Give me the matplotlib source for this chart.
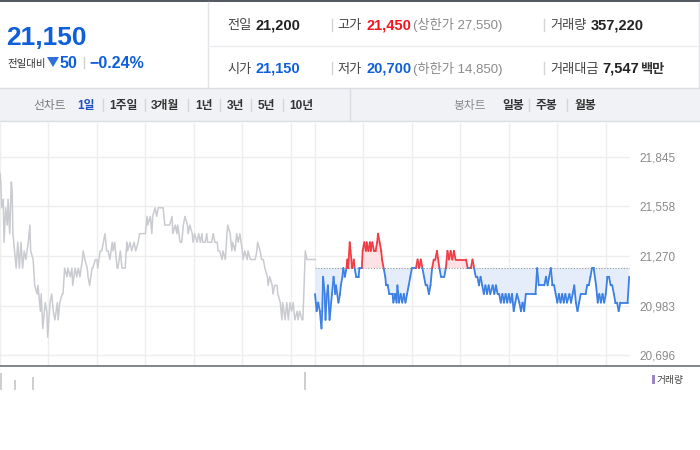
import numpy as np
import matplotlib.pyplot as plt
from matplotlib.collections import LineCollection
from matplotlib.patches import Rectangle, Polygon
from matplotlib.lines import Line2D

plt.rcParams['font.family'] = ['Liberation Sans', 'Noto Sans CJK KR', 'DejaVu Sans']

# --- 전일 분봉 (09:00 부터 경과 분, 가격) ---
prev_min = [0, 1, 2, 4, 5, 6, 7, 9, 10, 11, 12, 14, 15, 16, 19, 20, 22, 24, 26, 28,
            30, 32, 35, 37, 38, 41, 43, 46, 47, 50, 51, 53, 56, 58, 59, 62, 64, 66, 68, 71,
            72, 74, 77, 78, 80, 83, 84, 87, 89, 90, 93, 95, 97, 99, 102, 103, 105, 108, 109, 111,
            114, 115, 118, 120, 121, 124, 126, 128, 130, 132, 134, 136, 139, 140, 142, 145, 146, 149, 151, 155,
            157, 158, 161, 163, 166, 168, 171, 173, 180, 181, 182, 183, 186, 188, 189, 192, 194, 196, 202, 204,
            210, 213, 214, 217, 219, 220, 223, 225, 227, 229, 232, 233, 235, 238, 239, 241, 244, 246, 248, 250,
            251, 254, 256, 257, 262, 264, 266, 269, 270, 272, 275, 276, 279, 281, 282, 285, 287, 288, 291, 293,
            295, 297, 300, 301, 303, 306, 307, 310, 316, 318, 319, 322, 324, 326, 328, 331, 332, 334, 337, 338,
            340, 343, 344, 347, 349, 350, 353, 355, 357, 359, 361, 363, 365, 368, 369, 371, 374, 375, 378, 380,
            390]
prev_price = [21750, 21700, 21550, 21600, 21350, 21450, 21550, 21450, 21600, 21500, 21400, 21700, 21650, 21400, 21250, 21200, 21350, 21200, 21350, 21200,
              21300, 21250, 21350, 21450, 21300, 21250, 21100, 21050, 21100, 20950, 21050, 20850, 21000, 20950, 20800, 21000, 21050, 20950, 20900, 21000,
              20900, 21000, 21050, 21050, 21200, 21150, 21200, 21150, 21200, 21100, 21200, 21150, 21200, 21150, 21250, 21300, 21250, 21200, 21150, 21100,
              21200, 21200, 21250, 21250, 21200, 21300, 21300, 21350, 21400, 21300, 21300, 21250, 21350, 21300, 21350, 21200, 21200, 21300, 21200, 21200,
              21350, 21300, 21350, 21300, 21350, 21300, 21350, 21400, 21400, 21450, 21500, 21450, 21500, 21400, 21500, 21550, 21500, 21550, 21550, 21450,
              21450, 21500, 21400, 21450, 21400, 21450, 21350, 21350, 21450, 21500, 21450, 21400, 21450, 21400, 21350, 21400, 21350, 21400, 21350, 21400,
              21350, 21350, 21400, 21350, 21350, 21400, 21350, 21350, 21300, 21300, 21250, 21300, 21250, 21400, 21450, 21400, 21300, 21350, 21300, 21400,
              21350, 21400, 21300, 21250, 21300, 21250, 21300, 21250, 21250, 21300, 21350, 21300, 21250, 21250, 21200, 21150, 21100, 21150, 21100, 21050,
              21100, 21100, 21050, 21000, 20900, 21000, 20900, 21000, 20900, 21000, 20950, 21000, 20900, 20950, 20900, 20950, 20900, 20900, 21300, 21250,
              21250]

# --- 당일 분봉 ---
today_min = [0, 1, 2, 4, 6, 7, 8, 9, 10, 12, 13, 14, 16, 17, 18, 19, 21, 23, 25, 26,
             29, 31, 32, 34, 35, 37, 39, 40, 41, 43, 44, 46, 48, 49, 51, 54, 55, 58, 59, 61,
             63, 64, 66, 68, 69, 71, 73, 75, 77, 78, 80, 82, 83, 85, 87, 88, 90, 92, 96, 97,
             99, 101, 102, 104, 106, 108, 110, 112, 114, 116, 118, 120, 125, 127, 129, 131, 133, 135, 137, 139,
             141, 143, 145, 147, 149, 151, 154, 156, 160, 162, 164, 166, 168, 170, 172, 174, 187, 189, 193, 195,
             197, 199, 201, 203, 205, 207, 209, 211, 213, 215, 217, 220, 222, 224, 226, 228, 230, 232, 234, 236,
             238, 240, 242, 244, 246, 248, 250, 253, 255, 257, 259, 261, 273, 275, 277, 284, 286, 288, 290, 292,
             294, 296, 298, 300, 302, 304, 306, 308, 310, 312, 315, 317, 319, 321, 323, 325, 327, 329, 335, 337,
             339, 341, 343, 345, 348, 350, 352, 354, 356, 358, 360, 362, 364, 366, 368, 370, 372, 374, 376, 378,
             387, 389]
today_price = [21050, 21000, 20950, 21000, 20950, 20900, 20850, 20950, 21150, 21050, 20900, 21000, 21100, 21000, 20900, 20950, 21050, 21150, 21050, 21100,
               21000, 21050, 21100, 21150, 21200, 21150, 21200, 21250, 21200, 21350, 21300, 21200, 21250, 21200, 21150, 21150, 21200, 21200, 21300, 21350,
               21300, 21350, 21300, 21350, 21300, 21350, 21300, 21300, 21350, 21400, 21350, 21300, 21250, 21200, 21150, 21100, 21100, 21050, 21050, 21000,
               21050, 21000, 21100, 21000, 21050, 21000, 21050, 21000, 21050, 21100, 21150, 21200, 21200, 21250, 21200, 21250, 21200, 21150, 21100, 21100,
               21050, 21100, 21200, 21250, 21250, 21300, 21200, 21150, 21150, 21200, 21300, 21250, 21300, 21250, 21300, 21250, 21250, 21200, 21200, 21250,
               21200, 21150, 21150, 21100, 21150, 21100, 21050, 21100, 21050, 21100, 21050, 21100, 21050, 21100, 21050, 21050, 21000, 21050, 21000, 21050,
               21000, 21050, 21000, 21050, 20950, 21000, 21050, 21000, 20950, 21000, 20950, 21050, 21050, 21200, 21100, 21100, 21150, 21100, 21150, 21200,
               21100, 21100, 21050, 21000, 21050, 21000, 21050, 21000, 21050, 21000, 21050, 21000, 21050, 21100, 21000, 20950, 21000, 21050, 21050, 21100,
               21100, 21150, 21200, 21200, 21100, 21000, 21050, 21000, 21050, 21000, 21050, 21150, 21150, 21100, 21100, 21050, 21000, 21000, 20950, 21000,
               21000, 21150]

prev_close = 21200
y_ticks = [20696, 20983, 21270, 21558, 21845]
session_len = 390

# 거래량 (보이는 막대만)
vol_min = [1, 18, 41, 378]
vol_value = [7100, 4200, 5400, 7500]

# 상단 시세 정보
price_now = '21,150'
change_abs = '50'
change_pct = '\u22120.24%'
row1 = [('전일', '21,200', None), ('고가', '21,450', '(상한가 27,550)'), ('거래량', '357,220', None)]
row2 = [('시가', '21,150', None), ('저가', '20,700', '(하한가 14,850)'), ('거래대금', '7,547', '백만')]
tabs_line = ['1일', '1주일', '3개월', '1년', '3년', '5년', '10년']
tabs_candle = ['일봉', '주봉', '월봉']

BLUE = '#0f5fdc'
RED = '#f0141e'
LINE_BLUE = '#3b80e2'
LINE_RED = '#f23c45'
GREY_LINE = '#c9cbd0'

W, H = 700, 450
fig = plt.figure(figsize=(7, 4.5), dpi=100)
fig.patch.set_facecolor('white')


def fx(x):
    return x / W


def fy(y):
    return 1 - y / H


def hline(x0, x1, y, color, lw=1.0):
    fig.add_artist(Line2D([fx(x0), fx(x1)], [fy(y), fy(y)], color=color, lw=lw))


def vline(x, y0, y1, color, lw=1.0):
    fig.add_artist(Line2D([fx(x), fx(x)], [fy(y0), fy(y1)], color=color, lw=lw))


def txt(x, y, s, **kw):
    kw.setdefault('va', 'baseline')
    return fig.text(fx(x), fy(y), s, **kw)


# ---- header ----
fig.add_artist(Rectangle((0, fy(2)), 1, 2 / H, color='#565b63', lw=0))
vline(207.5, 2, 87, '#e2e4e7')
vline(698.5, 2, 87, '#e2e4e7')
hline(208, 698, 45.5, '#ebedf0')

txt(6, 45, price_now, fontsize=19, weight='bold', color=BLUE)
txt(7, 67, '전일대비', fontsize=7.5, color='#333333')
fig.add_artist(Polygon([(fx(47), fy(57)), (fx(59), fy(57)), (fx(53), fy(67))], closed=True,
                       color='#2f6fd8', lw=0))
txt(60, 67.5, change_abs, fontsize=11.5, weight='bold', color=BLUE)
vline(83.5, 57, 68, '#d0d0d0')
txt(89, 67.5, change_pct, fontsize=11.5, weight='bold', color=BLUE)

col_label_x = [227, 337, 550]
col_value_x = [256, 367, 591]
for row, base_y in ((row1, 29.5), (row2, 72.5)):
    for i, (lab, val, extra) in enumerate(row):
        txt(col_label_x[i], base_y, lab, fontsize=9.5, color='#444444')
        vx = col_value_x[i] if lab != '거래대금' else 602
        if lab in ('고가',):
            c = RED
        elif lab in ('시가', '저가'):
            c = BLUE
        else:
            c = '#222222'
        txt(vx, base_y, val, fontsize=10.5, weight='bold', color=c)
        if extra is not None:
            if extra == '백만':
                txt(640, base_y, extra, fontsize=9.5, weight='bold', color='#333333')
            else:
                txt(413, base_y, extra, fontsize=9.5, color='#8a8a8a')
    for dx in (331.5, 543.5):
        vline(dx, base_y - 11, base_y + 1, '#d4d4d4')

# ---- tab bar ----
fig.add_artist(Rectangle((0, fy(121)), 1, 33 / H, facecolor='#f0f2f5', edgecolor='none'))
hline(0, 700, 88, '#d9dce0')
hline(0, 700, 121, '#d9dce0')
vline(350.5, 88, 121, '#d9dce0')
tab_y = 108.5
txt(33, tab_y, '선차트', fontsize=8.5, color='#7a7a7a')
line_x = [77, 109, 151, 195, 227, 258, 289]
line_sep = [102, 144, 187, 219, 251, 282]
for i, (lab, x) in enumerate(zip(tabs_line, line_x)):
    txt(x, tab_y, lab, fontsize=8.5, weight='bold', color='#1f4fc1' if i == 0 else '#333333')
for sx in line_sep:
    vline(sx + 0.5, 99, 111, '#d4d6da')
txt(453, tab_y, '봉차트', fontsize=8.5, color='#8a8a8a')
candle_x = [502, 536, 574]
candle_sep = [528, 566]
for lab, x in zip(tabs_candle, candle_x):
    txt(x, tab_y, lab, fontsize=8.5, weight='bold', color='#333333')
for sx in candle_sep:
    vline(sx + 0.5, 99, 111, '#d4d6da')

# ---- price chart ----
ax = fig.add_axes([0, fy(365), fx(630), (365 - 123) / H])
ax.set_xlim(0, 2 * session_len)
ax.set_ylim(20638, 22042)
for s in ax.spines.values():
    s.set_visible(False)
ax.set_xticks([0, 60, 120, 180, 240, 300, 360, 390, 450, 510, 570, 630, 690, 750])
ax.set_yticks(y_ticks)
ax.set_yticklabels([f'{v:,}' for v in y_ticks])
ax.yaxis.tick_right()
ax.tick_params(axis='y', length=0, pad=7, labelsize=8.5, labelcolor='#8a8a8a')
ax.tick_params(axis='x', length=0, labelbottom=False)
ax.grid(True, color='#eeeeef', lw=1)
ax.set_axisbelow(True)

ax.plot(prev_min, prev_price, color=GREY_LINE, lw=1.1, zorder=3)

t = session_len + np.array(today_min, dtype=float)
p = np.array(today_price, dtype=float)
ax.fill_between(t, p, prev_close, where=p >= prev_close, interpolate=True,
                color='#fde1e3', lw=0, zorder=2)
ax.fill_between(t, p, prev_close, where=p <= prev_close, interpolate=True,
                color='#e4edf9', lw=0, zorder=2)
ax.hlines(prev_close, session_len, 2 * session_len, colors='#9a9a9a', lw=0.8,
          linestyles=(0, (1, 1.5)), zorder=3)

# split the line where it crosses the previous close
xs, ys = [t[0]], [p[0]]
for i in range(1, len(t)):
    y0, y1 = p[i - 1], p[i]
    if (y0 - prev_close) * (y1 - prev_close) < 0:
        xs.append(t[i - 1] + (prev_close - y0) / (y1 - y0) * (t[i] - t[i - 1]))
        ys.append(prev_close)
    xs.append(t[i])
    ys.append(p[i])
xs, ys = np.array(xs), np.array(ys)
pts = np.column_stack([xs, ys])
segs = np.stack([pts[:-1], pts[1:]], axis=1)
mid = (ys[:-1] + ys[1:]) / 2
cols = np.where(mid > prev_close, LINE_RED, LINE_BLUE)
ax.add_collection(LineCollection(segs, colors=cols, lw=1.3, zorder=4, capstyle='round',
                                 joinstyle='round'))

# ---- volume strip ----
hline(0, 700, 365.5, '#6d7178', lw=1.2)
vax = fig.add_axes([0, fy(390), fx(630), 24 / H])
vax.set_xlim(0, 2 * session_len)
vax.set_ylim(0, 10000)
vax.axis('off')
vax.vlines(vol_min, 0, vol_value, colors='#c4c6cb', lw=1.2)
fig.add_artist(Rectangle((fx(652), fy(384)), 2.5 / W, 9 / H, color='#9c86c8', lw=0))
txt(657, 383.5, '거래량', fontsize=7, color='#444444')

fig.savefig('out.png', dpi=100)
